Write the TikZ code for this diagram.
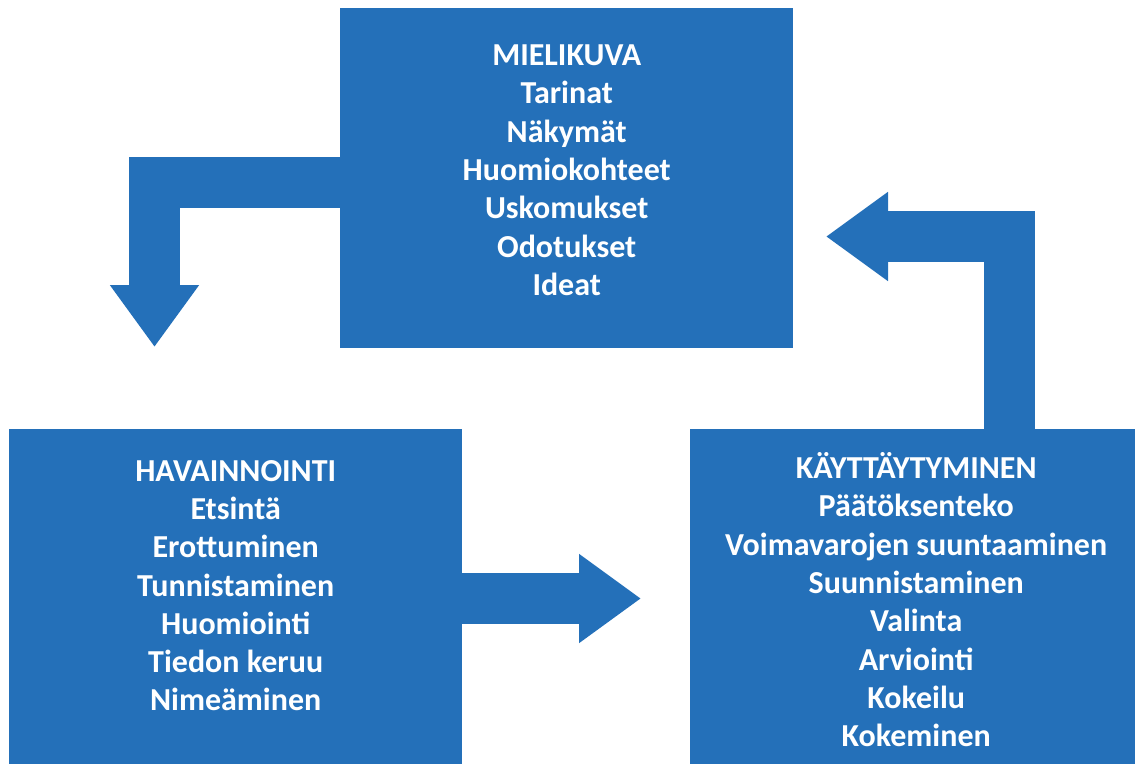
\documentclass[tikz,border=0pt]{standalone}
\usepackage{fontspec}
\setmainfont{Carlito}
\usepackage{xcolor}
\usetikzlibrary{arrows.meta,calc}

\definecolor{boxblue}{RGB}{36,112,185}

\begin{document}
\begin{tikzpicture}[
  x=1pt, y=-1pt,
  box/.style={fill=boxblue, draw=none, inner sep=0pt, anchor=north west},
  lbl/.style={text=white, align=center, font=\fontsize{32}{38.3}\selectfont\bfseries},
  bigarrow/.style={draw=boxblue, line width=51pt, line join=miter, line cap=butt,
    -{Triangle[length=62pt,width=85pt]}}
]
  \useasboundingbox (0,0) rectangle (1135,764);

  % The three boxes
  \node[box, minimum width=453pt, minimum height=340pt] (mieli) at (340,8) {};
  \node[box, minimum width=453pt, minimum height=335pt] (havain) at (9,429) {};
  \node[box, minimum width=445pt, minimum height=335pt] (kaytt) at (690,429) {};

  % Block arrows between them
  \draw[bigarrow] (mieli.west |- 0,182.5) -| (154.5,347);
  \draw[bigarrow] (havain.east |- 0,598.5) -- (641,598.5);
  \draw[bigarrow] (kaytt.north -| 1009.5,0) |- (826,236.5);

  % Labels
  \node[lbl] (mieliT) at ($(mieli.center)+(0,-8)$)
    {MIELIKUVA\\Tarinat\\Näkymät\\Huomiokohteet\\Uskomukset\\Odotukset\\Ideat};
  \node[lbl] (havainT) at ($(havain.center)+(0,-11)$)
    {HAVAINNOINTI\\Etsintä\\Erottuminen\\Tunnistaminen\\Huomiointi\\Tiedon keruu\\Nimeäminen};
  \node[lbl] (kayttT) at ($(kaytt.center)+(3.5,3)$)
    {KÄYTTÄYTYMINEN\\Päätöksenteko\\Voimavarojen suuntaaminen\\Suunnistaminen\\Valinta\\Arviointi\\Kokeilu\\Kokeminen};
\end{tikzpicture}
\end{document}
